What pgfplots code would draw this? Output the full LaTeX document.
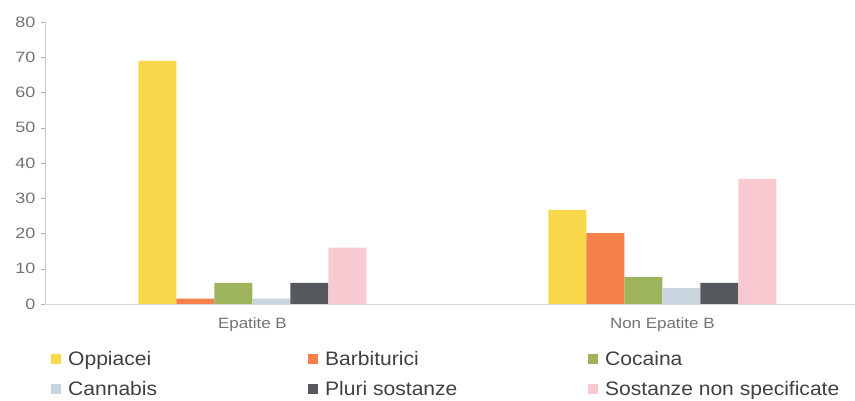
\documentclass[border=0pt]{standalone}
\usepackage{fontspec}
\setmainfont{Liberation Sans}[FakeStretch=1.13]
\newfontfamily\tickfont{Liberation Sans}[FakeStretch=1.2]
\newfontfamily\legfont{Liberation Sans}[FakeStretch=1.08]
\usepackage{pgfplots}
\pgfplotsset{compat=1.18}
\definecolor{cOpp}{HTML}{F8D84A}
\definecolor{cBar}{HTML}{F5804A}
\definecolor{cCoc}{HTML}{9DB45C}
\definecolor{cCan}{HTML}{C8D5DE}
\definecolor{cPlu}{HTML}{55595D}
\definecolor{cSos}{HTML}{F8C9D1}
\newcommand{\cA}[1]{\makebox[240pt][l]{#1}}
\newcommand{\cB}[1]{\makebox[263pt][l]{#1}}
\begin{document}
\begin{tikzpicture}
\useasboundingbox (0,0) rectangle (855pt,401pt);
\begin{axis}[
  at={(45pt,97pt)}, anchor=south west,
  scale only axis, width=810pt, height=282pt,
  ybar=0pt, bar width=38pt,
  xmin=-0.506, xmax=1.47, ymin=0, ymax=80,
  xtick={0,1}, xticklabels={Epatite B, Non Epatite B},
  ytick={0,10,...,80},
  axis lines*=left,
  axis line style={draw=black!22, line width=0.8pt},
  x axis line style={draw=black!15},
  major x tick style={draw=none},
  major y tick style={draw=black!30},
  tick align=outside, major tick length=4pt,
  /pgf/number format/assume math mode=true,
  yticklabel style={font=\fontsize{15}{15}\selectfont\tickfont, text=black!55, xshift=-2pt},
  xticklabel style={font=\fontsize{15}{15}\selectfont, text=black!55, yshift=-6pt},
  legend columns=3,
  legend cell align=left,
  legend style={at={(axis description cs:0.0037,-0.16)}, anchor=north west,
    draw=none, fill=none, font=\fontsize{19.5}{19.5}\selectfont\legfont, text=black!75,
    nodes={inner sep=0pt},
    row sep=14pt,
    /tikz/every odd column/.append style={column sep=7pt},
    /tikz/every even column/.append style={column sep=0pt}},
  legend image code/.code={\fill[#1] (0pt,-5pt) rectangle (10pt,5pt);},
]
\addplot[fill=cOpp, draw=none] coordinates {(0,69) (1,26.7)};
\addplot[fill=cBar, draw=none] coordinates {(0,1.5) (1,20.1)};
\addplot[fill=cCoc, draw=none] coordinates {(0,6) (1,7.7)};
\addplot[fill=cCan, draw=none] coordinates {(0,1.5) (1,4.5)};
\addplot[fill=cPlu, draw=none] coordinates {(0,6) (1,6)};
\addplot[fill=cSos, draw=none] coordinates {(0,16) (1,35.5)};
\legend{\cA{Oppiacei}, \cB{Barbiturici}, Cocaina, \cA{Cannabis}, \cB{Pluri sostanze}, Sostanze non specificate}
\end{axis}
\end{tikzpicture}
\end{document}
